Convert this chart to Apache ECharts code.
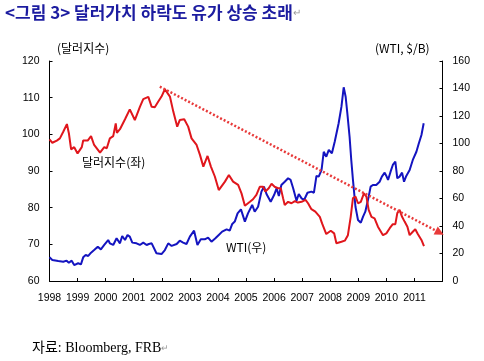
<!DOCTYPE html>
<html>
<head>
<meta charset="utf-8">
<script src="https://cdn.jsdelivr.net/npm/echarts@6/dist/echarts.min.js"></script>
<style>
html,body{margin:0;padding:0;background:#fff;}
#c{width:484px;height:361px;}
</style>
</head>
<body>
<div id="c"></div>
<script>
// ---- data ----
var dollarYears = [1998.00,1998.10,1998.26,1998.37,1998.49,1998.62,1998.69,1998.77,1998.88,1999.00,1999.15,1999.20,1999.36,1999.48,1999.59,1999.80,1999.95,2000.04,2000.15,2000.27,2000.36,2000.40,2000.51,2000.69,2000.86,2001.04,2001.22,2001.34,2001.52,2001.64,2001.75,2001.87,2001.99,2002.11,2002.29,2002.41,2002.55,2002.64,2002.80,2002.94,2003.06,2003.24,2003.36,2003.48,2003.63,2003.75,2003.89,2004.03,2004.25,2004.39,2004.54,2004.72,2004.84,2004.96,2005.14,2005.25,2005.37,2005.49,2005.61,2005.69,2005.81,2005.91,2006.02,2006.14,2006.24,2006.32,2006.38,2006.50,2006.62,2006.74,2006.85,2006.98,2007.12,2007.21,2007.33,2007.47,2007.63,2007.71,2007.86,2008.02,2008.14,2008.22,2008.40,2008.52,2008.63,2008.73,2008.81,2008.90,2008.99,2009.09,2009.20,2009.29,2009.37,2009.47,2009.58,2009.70,2009.88,2010.00,2010.12,2010.23,2010.32,2010.39,2010.47,2010.56,2010.65,2010.75,2010.83,2010.95,2011.03,2011.12,2011.25,2011.34];
var dollarValues = [98.6,97.7,98.3,98.9,100.7,102.8,100.3,95.9,96.5,94.8,96.5,98.3,98.3,99.5,97.1,95.0,96.5,96.2,98.9,99.5,103.0,100.4,101.4,104.1,106.8,103.9,107.5,109.6,110.2,107.5,107.4,108.9,110.3,112.3,110.3,106.2,102.1,103.9,104.1,102.1,98.9,97.1,94.4,91.2,94.1,91.2,88.5,84.8,87.1,88.9,87.1,86.2,83.9,80.5,81.6,82.3,83.5,85.7,85.7,84.4,85.3,86.5,85.7,85.3,85.3,82.6,80.7,81.6,81.2,81.8,81.4,81.6,82.1,81.2,79.6,78.9,77.5,75.7,72.8,73.7,73.0,70.3,70.7,71.0,72.5,77.5,82.6,83.0,81.2,81.6,83.9,83.0,79.4,77.5,77.1,74.8,72.5,73.0,74.4,75.5,75.5,78.5,79.4,77.5,76.2,74.8,72.5,73.5,74.1,72.8,71.2,69.5];

var wtiYears = [1998.00,1998.10,1998.31,1998.49,1998.61,1998.69,1998.79,1998.88,1999.02,1999.12,1999.20,1999.29,1999.38,1999.48,1999.59,1999.72,1999.83,1999.95,2000.09,2000.15,2000.27,2000.39,2000.51,2000.59,2000.69,2000.78,2000.86,2000.95,2001.10,2001.22,2001.34,2001.46,2001.54,2001.64,2001.81,2001.99,2002.11,2002.23,2002.35,2002.53,2002.64,2002.76,2002.88,2003.00,2003.15,2003.27,2003.39,2003.53,2003.65,2003.77,2003.91,2004.03,2004.15,2004.31,2004.42,2004.51,2004.60,2004.70,2004.82,2004.96,2005.07,2005.22,2005.31,2005.43,2005.55,2005.64,2005.73,2005.88,2006.00,2006.09,2006.17,2006.26,2006.38,2006.50,2006.59,2006.68,2006.80,2006.88,2006.98,2007.07,2007.19,2007.33,2007.42,2007.51,2007.59,2007.69,2007.77,2007.86,2007.95,2008.06,2008.16,2008.30,2008.40,2008.48,2008.55,2008.61,2008.69,2008.75,2008.81,2008.90,2008.99,2009.09,2009.17,2009.25,2009.32,2009.37,2009.44,2009.52,2009.64,2009.76,2009.84,2009.94,2010.00,2010.06,2010.15,2010.23,2010.32,2010.39,2010.47,2010.56,2010.63,2010.71,2010.83,2010.95,2011.07,2011.15,2011.25,2011.33];
var wtiValues = [17.2,15.3,14.5,14.0,14.8,13.3,14.8,11.6,12.9,12.1,17.2,18.9,18.2,20.6,22.5,24.9,23.0,26.2,29.8,27.4,26.2,31.1,27.4,32.7,29.8,33.5,32.3,27.9,27.4,26.2,27.9,26.2,26.9,27.4,20.2,19.6,22.5,27.4,25.5,26.9,29.3,27.9,26.9,32.3,36.6,26.2,30.3,30.3,31.5,28.6,31.1,33.5,35.9,37.6,36.6,41.5,43.2,49.2,52.1,43.2,49.2,55.3,50.4,54.0,65.0,68.6,63.3,57.6,62.5,67.4,61.8,69.8,72.2,74.7,73.5,67.4,58.4,63.3,60.1,58.9,64.2,65.0,64.2,76.4,75.9,80.7,94.0,90.4,95.3,92.9,101.3,114.7,126.8,140.9,134.0,122.0,104.9,88.0,73.5,54.0,44.4,42.4,46.8,50.4,51.6,61.3,68.6,69.8,69.8,72.2,75.9,78.8,76.4,73.5,79.5,84.4,86.8,74.7,75.9,78.8,72.2,76.4,80.7,88.5,94.0,99.6,106.2,114.7];

var trendStart = [2001.93, 113.0];
var trendEnd = [2011.9, 73.2];

var xLabels = ['1998','1999','2000','2001','2002','2003','2004','2005','2006','2007','2008','2009','2010','2011'];

var titleText = '<그림 3> 달러가치 하락도 유가 상승 초래';
var leftName = '(달러지수)';
var rightName = '(WTI, $/B)';
var dollarLabel = '달러지수(좌)';
var wtiLabel = 'WTI(우)';
var sourceText = '자료: Bloomberg, FRB';

function zip(a, b) { return a.map(function (v, i) { return [v, b[i]]; }); }

var chart = echarts.init(document.getElementById('c'), null, {renderer: 'canvas'});
var tickFont = {fontFamily: 'Liberation Sans, Arial, sans-serif', fontSize: 10.5, color: '#000'};
var korFont = "'Noto Sans CJK KR', 'Liberation Sans', sans-serif";

chart.setOption({
  animation: false,
  backgroundColor: '#fff',
  grid: {left: 49.5, right: 41.5, top: 61, bottom: 80},
  xAxis: {
    type: 'value', min: 1998, max: 2012, interval: 1,
    axisLine: {lineStyle: {color: '#000', width: 1}},
    axisTick: {inside: true, length: 3, lineStyle: {color: '#000'}},
    splitLine: {show: false},
    axisLabel: Object.assign({margin: 12, formatter: function (v) {
      var s = String(Math.round(v));
      return xLabels.indexOf(s) >= 0 ? s : '';
    }}, tickFont)
  },
  yAxis: [{
    type: 'value', min: 60, max: 120, interval: 10, position: 'left',
    axisLine: {show: true, lineStyle: {color: '#000', width: 1}},
    axisTick: {show: true, inside: true, length: 3, lineStyle: {color: '#000'}},
    splitLine: {show: false},
    axisLabel: Object.assign({margin: 10}, tickFont)
  }, {
    type: 'value', min: 0, max: 160, interval: 20, position: 'right',
    axisLine: {show: true, lineStyle: {color: '#000', width: 1}},
    axisTick: {show: true, inside: true, length: 3, lineStyle: {color: '#000'}},
    splitLine: {show: false},
    axisLabel: Object.assign({margin: 10}, tickFont)
  }],
  series: [{
    type: 'line', yAxisIndex: 1, data: zip(wtiYears, wtiValues),
    showSymbol: false, symbol: 'none', z: 2,
    lineStyle: {color: '#1414c0', width: 2}
  }, {
    type: 'line', yAxisIndex: 0, data: zip(dollarYears, dollarValues),
    showSymbol: false, symbol: 'none', z: 3,
    lineStyle: {color: '#e0161c', width: 2},
    markLine: {
      silent: true, symbol: ['none', 'triangle'], symbolSize: [9, 9],
      label: {show: false},
      lineStyle: {color: '#e83a3a', type: [2, 2], width: 2.5},
      data: [[{coord: trendStart}, {coord: trendEnd}]]
    }
  }],
  graphic: [
    {type: 'text', left: 5, top: 4, style: {
      text: '{t|' + titleText + '}{r|↵}',
      rich: {
        t: {fontFamily: korFont, fontWeight: 'bold', fontSize: 17, fill: '#1c1ca0'},
        r: {fontFamily: korFont, fontSize: 10, fill: '#999'}
      }}},
    {type: 'text', left: 57, top: 42, style: {text: leftName, fontFamily: korFont, fontSize: 12, fill: '#000'}},
    {type: 'text', left: 375, top: 42, style: {text: rightName, fontFamily: korFont, fontSize: 12, fill: '#000'}},
    {type: 'text', left: 82, top: 156, style: {text: dollarLabel, fontFamily: korFont, fontSize: 12, fill: '#000'}},
    {type: 'text', left: 226, top: 241, style: {text: wtiLabel, fontFamily: korFont, fontSize: 12, fill: '#000'}},
    {type: 'text', left: 32, top: 341, style: {
      text: '{s|' + sourceText + '}{r|↵}',
      rich: {
        s: {fontFamily: "'Liberation Serif', 'Noto Sans CJK KR', serif", fontSize: 14, fill: '#000'},
        r: {fontFamily: korFont, fontSize: 9, fill: '#999'}
      }}}
  ]
});
</script>
</body>
</html>
